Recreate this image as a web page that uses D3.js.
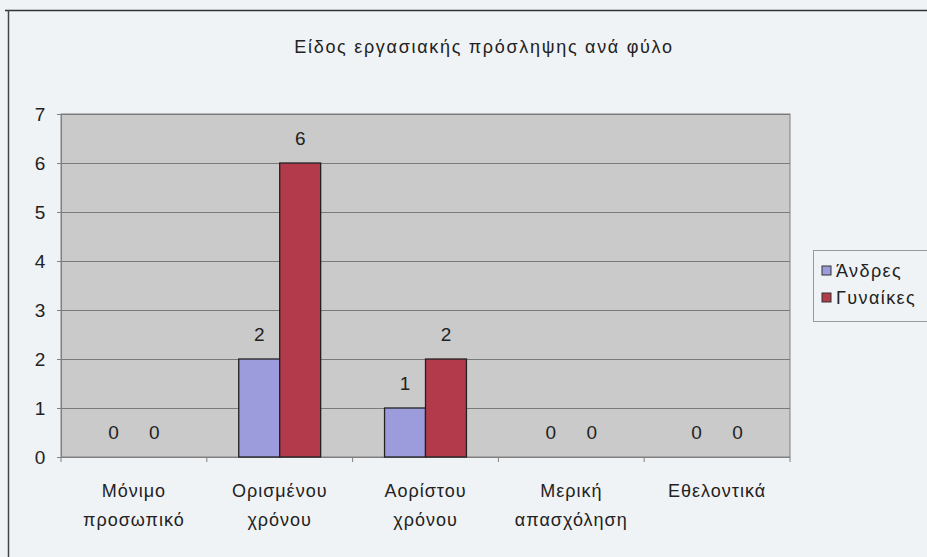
<!DOCTYPE html>
<html><head><meta charset="utf-8">
<script src="https://cdn.jsdelivr.net/npm/d3@7"></script>
<style>
html,body{margin:0;padding:0;background:#f0f2f5;}
svg{display:block;font-family:Arial, "Liberation Sans", sans-serif;}
</style></head>
<body>
<svg id="c" width="927" height="557"></svg>
<script>
const title = "Είδος εργασιακής πρόσληψης ανά φύλο";
const categories = [["Μόνιμο","προσωπικό"],["Ορισμένου","χρόνου"],["Αορίστου","χρόνου"],["Μερική","απασχόληση"],["Εθελοντικά"]];
const seriesNames = ["Άνδρες","Γυναίκες"];
const men = [0,2,1,0,0];
const women = [0,6,2,0,0];
const yTicks = [0,1,2,3,4,5,6,7];
const colors = ["#9c9cdc","#b33a4a"];

const svg = d3.select("#c");
const W=927,H=557;
svg.append("rect").attr("width",W).attr("height",H).attr("fill","#f0f3f6");
svg.append("line").attr("x1",5).attr("x2",W).attr("y1",10.5).attr("y2",10.5).attr("stroke","#333").attr("stroke-width",1.5);
svg.append("line").attr("x1",8.5).attr("x2",8.5).attr("y1",10).attr("y2",H).attr("stroke","#444").attr("stroke-width",1.5);

const L=61,R=790,T=114,B=457;
const x = d3.scaleBand().domain(d3.range(categories.length)).range([L,R]);
const y = d3.scaleLinear().domain([0,7]).range([B,T]);
const inner = d3.scaleBand().domain([0,1]).range([0,x.bandwidth()]).paddingInner(0).paddingOuter(0.78);

svg.append("rect").attr("x",L).attr("y",T).attr("width",R-L).attr("height",B-T)
  .attr("fill","#cacaca").attr("stroke","#808080").attr("stroke-width",1);

svg.append("g").selectAll("line").data(yTicks.filter(d=>d>0)).join("line")
  .attr("x1",L).attr("x2",R).attr("y1",d=>Math.round(y(d))+0.5).attr("y2",d=>Math.round(y(d))+0.5)
  .attr("stroke","#7a7a7a").attr("stroke-width",1);

const ya = svg.append("g").attr("transform",`translate(${L},0)`)
  .call(d3.axisLeft(y).tickValues(yTicks).tickSize(4).tickFormat(d3.format("d")));
ya.select(".domain").attr("stroke","#808080");
ya.selectAll(".tick line").attr("stroke","#808080");
ya.selectAll("text").attr("font-size",19).attr("fill","#222").attr("x",-21).attr("text-anchor","middle");

const xa = svg.append("g").attr("transform",`translate(0,${B})`);
xa.append("line").attr("x1",L).attr("x2",R).attr("y1",0.5).attr("y2",0.5).attr("stroke","#808080");
xa.selectAll("line.t").data(d3.range(categories.length+1)).join("line").attr("class","t")
  .attr("x1",i=>L+i*x.step()).attr("x2",i=>L+i*x.step()).attr("y1",0).attr("y2",5).attr("stroke","#808080");

const data = [];
categories.forEach((c,i)=>{ data.push({i,s:0,v:men[i]}); data.push({i,s:1,v:women[i]}); });
const g = svg.append("g");
g.selectAll("rect").data(data.filter(d=>d.v>0)).join("rect")
  .attr("x",d=>x(d.i)+inner(d.s)).attr("width",inner.bandwidth())
  .attr("y",d=>y(d.v)).attr("height",d=>y(0)-y(d.v))
  .attr("fill",d=>colors[d.s]).attr("stroke","#222").attr("stroke-width",1.3);
g.selectAll("text").data(data).join("text")
  .attr("x",d=>x(d.i)+inner(d.s)+inner.bandwidth()/2)
  .attr("y",d=>y(d.v)-18).attr("text-anchor","middle")
  .attr("font-size",19).attr("fill","#222").text(d=>d.v);

const cl = svg.append("g");
categories.forEach((c,i)=>{
  const cx = x(i)+x.bandwidth()/2;
  const t = cl.append("text").attr("text-anchor","middle")
    .attr("font-size",18).attr("letter-spacing",1).attr("fill","#222");
  c.forEach((line,k)=>t.append("tspan").attr("x",cx).attr("y",497+k*29).text(line));
});

svg.append("text").attr("x",484).attr("y",53).attr("text-anchor","middle")
  .attr("font-size",18).attr("letter-spacing",1.7).attr("fill","#222").text(title);

const lg = svg.append("g");
lg.append("rect").attr("x",813.5).attr("y",250.5).attr("width",120).attr("height",71)
  .attr("fill","#f0f3f6").attr("stroke","#999");
seriesNames.forEach((n,k)=>{
  const yy = 271 + k*27;
  lg.append("rect").attr("x",822).attr("y",yy-5).attr("width",9).attr("height",9)
    .attr("fill",colors[k]).attr("stroke","#333").attr("stroke-width",1);
  lg.append("text").attr("x",836).attr("y",yy+6).attr("font-size",18).attr("letter-spacing",1.4).attr("fill","#222").text(n);
});
</script>
</body></html>
